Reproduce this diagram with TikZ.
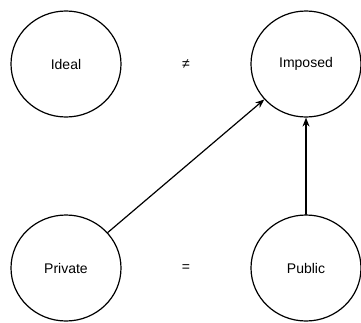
\documentclass[tikz,border=0pt]{standalone}
\usepackage{fontspec}
\setmainfont{Liberation Sans}
\usetikzlibrary{shapes.geometric,arrows.meta}
\begin{document}
\begin{tikzpicture}[x=1pt,y=-1pt,line cap=round,line join=round,
  idea/.style={ellipse,draw,line width=1.2pt,minimum width=110,minimum height=106,inner sep=0pt,font=\fontsize{14}{16}\selectfont},
  link/.style={line width=1.2pt,-{Stealth[length=9pt,width=7pt]}},
  rel/.style={font=\fontsize{14}{16}\selectfont}]
\useasboundingbox (0,0) rectangle (361,322);
\node[idea] (ideal) at (66,64) {Ideal};
\node[idea] (imposed) at (306,64) {Imposed};
\node[idea] (private) at (66,268) {Private};
\node[idea] (public) at (306,268) {Public};
\node[rel] (neq) at (186,64) {≠};
\node[rel] (eq) at (186,268) {=};
\draw[link] (private) -- (imposed);
\draw[link] (public) -- (imposed);
\end{tikzpicture}
\end{document}
